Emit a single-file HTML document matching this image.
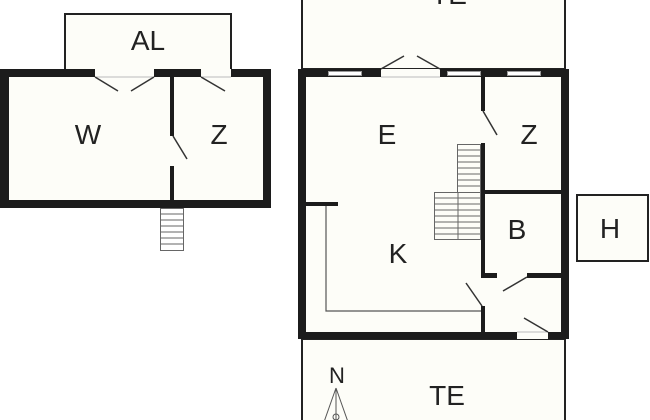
<!DOCTYPE html>
<html><head><style>
html,body{margin:0;padding:0;background:#fff;}
svg{display:block;}
text{font-family:"Liberation Sans",sans-serif;font-size:28px;fill:#222;text-anchor:middle;}
</style></head><body>
<svg width="650" height="420" viewBox="0 0 650 420" xmlns="http://www.w3.org/2000/svg">
<!-- terraces -->
<rect x="302" y="-5" width="263" height="74" fill="#fdfdf8" stroke="#222" stroke-width="2"/>
<rect x="302" y="339" width="263" height="90" fill="#fdfdf8" stroke="#222" stroke-width="2"/>
<rect x="65" y="14" width="166" height="58" fill="#fdfdf8" stroke="#222" stroke-width="2"/>
<rect x="577" y="195" width="71" height="66" fill="#fdfdf8" stroke="#222" stroke-width="2"/>

<!-- left building -->
<rect x="0" y="69" width="271" height="139" fill="#1c1c1c"/>
<rect x="9" y="77" width="254" height="123" fill="#fdfdf8"/>
<rect x="95" y="69" width="59" height="8" fill="#fdfdf8"/>
<rect x="201" y="69" width="30" height="8" fill="#fdfdf8"/>
<line x1="95" y1="77" x2="154" y2="77" stroke="#bbb" stroke-width="1"/>
<line x1="201" y1="77" x2="231" y2="77" stroke="#bbb" stroke-width="1"/>
<rect x="170" y="77" width="4" height="59" fill="#1c1c1c"/>
<rect x="170" y="166" width="4" height="34" fill="#1c1c1c"/>
<g stroke="#333" stroke-width="1.5">
<line x1="95" y1="77" x2="118" y2="91"/>
<line x1="154" y1="77" x2="131" y2="91"/>
<line x1="201" y1="77" x2="225" y2="91"/>
<line x1="173" y1="136" x2="187" y2="159"/>
</g>
<!-- left stairs -->
<g stroke="#666" stroke-width="1" fill="none">
<rect x="160.5" y="208.5" width="23" height="42"/>
<line x1="160" y1="214" x2="184" y2="214"/><line x1="160" y1="220" x2="184" y2="220"/>
<line x1="160" y1="226" x2="184" y2="226"/><line x1="160" y1="232" x2="184" y2="232"/>
<line x1="160" y1="238" x2="184" y2="238"/><line x1="160" y1="244" x2="184" y2="244"/>
</g>

<!-- right building -->
<rect x="298" y="69" width="271" height="270" fill="#1c1c1c"/>
<rect x="306" y="77" width="255" height="255" fill="#fdfdf8"/>
<!-- windows/doors top -->
<g fill="#fff" stroke="#999" stroke-width="1">
<rect x="328.5" y="71.5" width="33" height="4"/>
<rect x="447.5" y="71.5" width="33" height="4"/>
<rect x="507.5" y="71.5" width="33" height="4"/>
</g>
<rect x="381" y="69" width="59" height="8" fill="#fdfdf8"/>
<line x1="381" y1="77" x2="440" y2="77" stroke="#bbb"/>
<rect x="517" y="332" width="31" height="7" fill="#fdfdf8"/>
<line x1="517" y1="332" x2="548" y2="332" stroke="#bbb"/>
<!-- interior walls -->
<rect x="481" y="77" width="4" height="34" fill="#1c1c1c"/>
<rect x="481" y="143" width="4" height="135" fill="#1c1c1c"/>
<rect x="481" y="190" width="80" height="4" fill="#1c1c1c"/>
<rect x="481" y="273" width="16" height="5" fill="#1c1c1c"/>
<rect x="527" y="273" width="34" height="5" fill="#1c1c1c"/>
<rect x="481" y="306" width="4" height="26" fill="#1c1c1c"/>
<rect x="306" y="202" width="32" height="4" fill="#1c1c1c"/>
<polyline points="326,206 326,311 481,311" fill="none" stroke="#555" stroke-width="1.2"/>
<g stroke="#333" stroke-width="1.5">
<line x1="381" y1="69" x2="404" y2="56"/>
<line x1="440" y1="69" x2="417" y2="56"/>
<line x1="483" y1="111" x2="497" y2="135"/>
<line x1="482" y1="306" x2="466" y2="283"/>
<line x1="527" y1="277" x2="503" y2="291"/>
<line x1="548" y1="332" x2="524" y2="318"/>
</g>
<!-- stairs -->
<g stroke="#666" stroke-width="1" fill="none">
<rect x="457.5" y="144.5" width="23" height="48"/>
<rect x="434.5" y="192.5" width="46" height="47"/>
<line x1="458" y1="192" x2="458" y2="240"/>
<line x1="457" y1="150" x2="481" y2="150"/><line x1="457" y1="156" x2="481" y2="156"/>
<line x1="457" y1="162" x2="481" y2="162"/><line x1="457" y1="168" x2="481" y2="168"/>
<line x1="457" y1="174" x2="481" y2="174"/><line x1="457" y1="180" x2="481" y2="180"/>
<line x1="457" y1="186" x2="481" y2="186"/>
<line x1="434" y1="198" x2="481" y2="198"/><line x1="434" y1="204" x2="481" y2="204"/>
<line x1="434" y1="210" x2="481" y2="210"/><line x1="434" y1="216" x2="481" y2="216"/>
<line x1="434" y1="222" x2="481" y2="222"/><line x1="434" y1="228" x2="481" y2="228"/>
<line x1="434" y1="234" x2="481" y2="234"/>
</g>
<!-- compass -->
<g stroke="#555" stroke-width="1" fill="none">
<line x1="336" y1="388" x2="324" y2="422"/>
<line x1="336" y1="388" x2="348" y2="422"/>
<line x1="336" y1="388" x2="336" y2="420"/>
<circle cx="336" cy="417" r="3"/>
</g>

<!-- labels -->
<text x="148" y="50">AL</text>
<text x="88" y="144">W</text>
<text x="219" y="144">Z</text>
<text x="387" y="144">E</text>
<text x="529" y="144">Z</text>
<text x="517" y="239">B</text>
<text x="398" y="263">K</text>
<text x="610" y="238">H</text>
<text x="447" y="405">TE</text>
<text x="449" y="4">TE</text>
<text x="337" y="383" style="font-size:22px">N</text>
</svg>
</body></html>
